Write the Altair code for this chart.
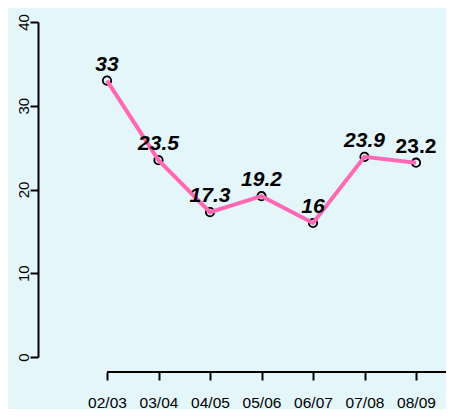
import altair as alt
import pandas as pd

seasons = ["02/03", "03/04", "04/05", "05/06", "06/07", "07/08", "08/09"]
values = [33, 23.5, 17.3, 19.2, 16, 23.9, 23.2]
labels = ["33", "23.5", "17.3", "19.2", "16", "23.9", "23.2"]
italic = [True, True, True, True, True, True, False]
y_ticks = [0, 10, 20, 30, 40]

df = pd.DataFrame({"season": seasons, "value": values, "label": labels, "italic": italic})

W, H = 408, 335
FONT = "Liberation Sans"
BG = "#E5F6FA"
PINK = "#FF69B4"

x_enc = alt.X(
    "season:N", sort=seasons,
    scale=alt.Scale(type="point", range=[69, 378], padding=0),
    axis=alt.Axis(title=None, domain=False, offset=15, tickSize=8, tickWidth=2,
                  tickColor="black", labelAngle=0, labelFont=FONT, labelFontSize=15.5,
                  labelColor="black", labelPadding=27, labelBaseline="alphabetic",
                  grid=False),
)
y_enc = alt.Y(
    "value:Q",
    scale=alt.Scale(domain=[0, 40], nice=False),
    axis=alt.Axis(title=None, values=y_ticks, domainWidth=2, domainColor="black",
                  tickSize=8, tickWidth=2, tickColor="black", labelAngle=270,
                  labelAlign="center", labelBaseline="alphabetic", labelPadding=1.5,
                  labelFont=FONT, labelFontSize=15, labelColor="black", grid=False),
)

base = alt.Chart(df).encode(x=x_enc, y=y_enc)

points = base.mark_point(shape="circle", filled=False, size=70, stroke="black",
                         strokeWidth=1.8, opacity=1)
line = base.mark_line(color=PINK, strokeWidth=4)
text_it = base.transform_filter("datum.italic").mark_text(
    font=FONT, fontSize=21, fontWeight="bold", fontStyle="italic", dy=-10,
    baseline="alphabetic", color="black").encode(text="label:N")
text_up = base.transform_filter("!datum.italic").mark_text(
    font=FONT, fontSize=21, fontWeight="bold", fontStyle="normal", dy=-10,
    baseline="alphabetic", color="black").encode(text="label:N")

xline = alt.Chart(pd.DataFrame({"a": [0]})).mark_rule(color="black", strokeWidth=2).encode(
    x=alt.value(69), x2=alt.value(W), y=alt.value(H + 15))

chart = alt.layer(points, line, text_it, text_up, xline).properties(
    width=W, height=H,
    padding={"left": 30, "top": 14, "right": 0, "bottom": 52},
    autosize=alt.AutoSizeParams(type="none"),
    background=BG,
).configure_view(stroke=None)

chart.save("out.html", embed_options={"renderer": "svg", "actions": False})
